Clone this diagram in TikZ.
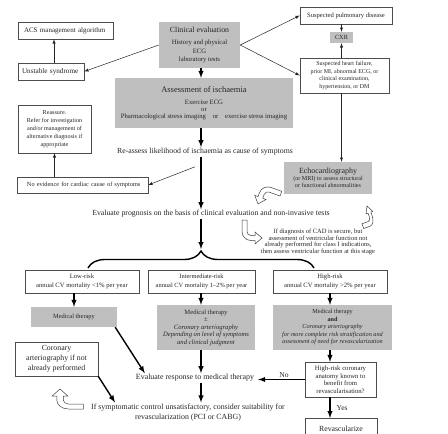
\documentclass[tikz,border=0pt]{standalone}
\usepackage{fontspec}
\setmainfont{Liberation Serif}
\usepackage{tikz}
\usetikzlibrary{arrows,positioning,decorations.pathreplacing}
\newcommand{\fsz}[2]{\fontsize{#1}{#2}\selectfont}

\begin{document}
\begin{tikzpicture}[x=1pt, y=-1pt,
    box/.style={draw=black!70, fill=white, inner sep=1pt, align=center, text=black!85},
    greybox/.style={box, draw=none, fill=black!25},
    txt/.style={inner sep=1pt, align=center, text=black!85},
    arr/.style={-latex, line width=0.5pt, black!85},
    bigarr/.style={-latex, line width=1.4pt},
    bent/.pic={\filldraw[draw=black!75, fill=white, line width=0.5pt] (0pt,0pt) -- (6pt,7pt) -- (2.5pt,7pt) -- (2.5pt,11pt) arc[start angle=180, end angle=90, radius=4pt] -- (18pt,15pt) -- (18pt,20pt) -- (6.5pt,20pt) arc[start angle=90, end angle=180, radius=9pt] -- (-2.5pt,7pt) -- (-6pt,7pt) -- cycle;}]
                        \useasboundingbox (0,0) rectangle (448,434);
                        \node[box, font=\fsz{7}{8}, minimum width=95pt, minimum height=17pt, text width=83pt, align=left] (acs) at (65.5,30.5) {\mbox{ACS management algorithm}};
                        \node[box, font=\fsz{7.2}{8}, minimum width=66pt, minimum height=17pt, text width=58pt, align=left] (unst) at (51,71.5) {\mbox{Unstable syndrome}};
                        \node[greybox, font=\fsz{6.7}{8.5}, minimum width=81pt, minimum height=46pt] (clin) at (199.5,45) {{\fsz{7.8}{9}Clinical evaluation}\\[4pt]History and physical\\ECG\\laboratory tests};
                        \node[box, font=\fsz{6.6}{8}, minimum width=92pt, minimum height=17pt] (pulm) at (346,15.5) {Suspected pulmonary disease};
                        \node[greybox, font=\fsz{6.3}{7}, minimum width=23pt, minimum height=11pt] (cxr) at (341.5,37.5) {CXR};
                        \node[box, font=\fsz{6}{7.4}, minimum width=89pt, minimum height=35pt] (hf) at (344.5,75.5) {Suspected heart failure,\\prior MI, abnormal ECG, or\\clinical examination,\\hypertension, or DM};
                        \node[greybox, font=\fsz{6.7}{6.8}, minimum width=178pt, minimum height=50pt] (isch) at (204,103) {{\fsz{8.5}{10}Assessment of ischaemia}\\[6pt]Exercise ECG\\or\\Pharmacological stress imaging\quad or\quad exercise stress imaging};
                        \node[txt, font=\fsz{7.8}{8}] (reassess) at (205,152) {Re-assess likelihood of ischaemia as cause of symptoms};
                        \node[box, font=\fsz{6.1}{8}, minimum width=73pt, minimum height=48pt] (reass) at (54.5,129) {Reassure.\\Refer for investigation\\and/or management of\\alternative diagnosis if\\appropriate};
                        \node[box, font=\fsz{6.3}{7}, minimum width=131pt, minimum height=16pt, text width=111pt, align=left] (noev) at (82.5,185) {\mbox{No evidence for cardiac cause of symptoms}};
                        \node[greybox, font=\fsz{6.1}{7}, minimum width=88pt, minimum height=32pt] (echo) at (328,178) {{\fsz{7.9}{8}Echocardiography}\\(or MRI) to assess structural\\or functional abnormalities};
                        \node[txt, font=\fsz{7.8}{8}] (prog) at (211,214) {Evaluate prognosis on the basis of clinical evaluation and non-invasive tests};
                        \node[txt, font=\fsz{6.5}{6.8}] (cad) at (318,242) {If diagnosis of CAD is secure, but\\assessment of ventricular function not\\already performed for class I indications,\\then assess ventricular function at this stage};
                        \node[box, font=\fsz{6.6}{9}, minimum width=114pt, minimum height=23pt] (low) at (82,281.5) {Low-risk\\annual CV mortality <1\% per year};
                        \node[box, font=\fsz{6.4}{9}, minimum width=107pt, minimum height=23pt] (inter) at (201.5,281.5) {Intermediate-risk\\annual CV mortality 1--2\% per year};
                        \node[box, font=\fsz{6.6}{9}, minimum width=114pt, minimum height=23pt] (high) at (330,281.5) {High-risk\\annual CV mortality >2\% per year};
                        \node[greybox, font=\fsz{6.4}{8}, minimum width=86pt, minimum height=20pt] (medlow) at (74,317) {Medical therapy};
                        \node[greybox, font=\fsz{6.6}{7.5}, minimum width=98pt, minimum height=45pt] (medint) at (206,327.5) {Medical therapy\\±\\\textit{Coronary arteriography}\\\textit{Depending on level of symptoms}\\\textit{and clinical judgment}};
                        \node[greybox, font=\fsz{6.2}{7.5}, minimum width=119pt, minimum height=45pt] (medhigh) at (332.5,327.5) {Medical therapy\\\textbf{and}\\\textit{Coronary arteriography}\\\textit{for more complete risk stratification and}\\\textit{assessment of need for revascularization}};
                        \node[txt, font=\fsz{7.9}{8}] (resp) at (195,378) {Evaluate response to medical therapy};
                        \node[box, font=\fsz{7.8}{10}, minimum width=83pt, minimum height=34pt] (corart) at (56.5,359) {Coronary\\arteriography if not\\already performed};
                        \node[box, font=\fsz{6.7}{7.5}, minimum width=71pt, minimum height=35pt] (anat) at (340.5,379.5) {High-risk coronary\\anatomy known to\\benefit from\\revascularisation?};
                        \node[txt, font=\fsz{7.9}{10.5}] (ifsym) at (188,412.5) {If symptomatic control unsatisfactory, consider suitability for\\revascularization (PCI or CABG)};
                        \node[box, font=\fsz{7.8}{9}, minimum width=72pt, minimum height=22pt, anchor=north] (revasc) at (341,418) {Revascularize};
                        \coordinate (mid) at (201,0);
                        \coordinate (btip) at (201,249);
                        \coordinate (bl) at (88,268);
                        \coordinate (br) at (314,268);
                        \draw[arr] ([xshift=3pt]unst.north) -- ([xshift=3pt]unst.north |- acs.south);
                        \draw[arr] (clin.west) -- (unst.east);
                        \draw[arr] (clin.east) -- (pulm.west);
                        \draw[arr] (clin.east) -- (hf.west);
                        \draw[arr] (pulm.south -| cxr.north) -- (cxr.north);
                        \draw[arr] (hf.north -| cxr.south) -- (cxr.south);
                        \draw[arr] (hf.south -| cxr.south) -- (echo.north -| cxr.south);
                        \draw[bigarr] (clin.south -| mid) -- (isch.north -| mid);
                        \draw[bigarr] (isch.south -| mid) -- (reassess.north -| mid);
                        \draw[arr] ([xshift=-10pt,yshift=-10pt]reassess.south) -- (noev.east);
                        \draw[arr] (noev.north -| reass.south) -- (reass.south);
                        \draw[bigarr] (reassess.south -| mid) -- (prog.north -| mid);
                        \draw[bigarr] (prog.south -| mid) -- (btip);
                        \draw[line width=1.4pt, decorate, decoration={brace, amplitude=17pt}] (bl) -- (br);
                        \draw[bigarr] (low.south -| medlow.north) -- (medlow.north);
                        \draw[bigarr] (inter.south -| mid) -- (medint.north -| mid);
                        \draw[bigarr] (high.south) -- (high.south |- medhigh.north);
                        \draw[bigarr] ([xshift=-2pt]medlow.south east) -- ([xshift=10pt]resp.north west);
                        \draw[bigarr] (medint.south -| mid) -- (resp.north -| mid);
                        \draw[bigarr] (resp.south -| mid) -- (ifsym.north -| mid);
                        \draw[bigarr] (medhigh.south -| high.south) -- (anat.north -| high.south);
                        \draw[bigarr, shorten >=3pt] (anat.west) -- (anat.west -| resp.east) node[midway, above, xshift=4pt, txt, font=\fsz{7.5}{8}] {No};
                        \draw[bigarr] (anat.south -| high.south) -- (revasc.north -| high.south) node[midway, right, xshift=5pt, txt, font=\fsz{7.5}{8}] {Yes};
                        \draw[bigarr] (corart.south east) -- ([xshift=25pt]ifsym.north west);
                        \pic[rotate=-20] at (258,204) {bent};
                        \pic[rotate=200, xscale=0.6] at (367,206) {bent};
                        \pic[rotate=90] at (262,238) {bent};
                        \pic[yscale=-1, xscale=1.3] at (60,389) {bent};
                        \end{tikzpicture}
\end{document}
